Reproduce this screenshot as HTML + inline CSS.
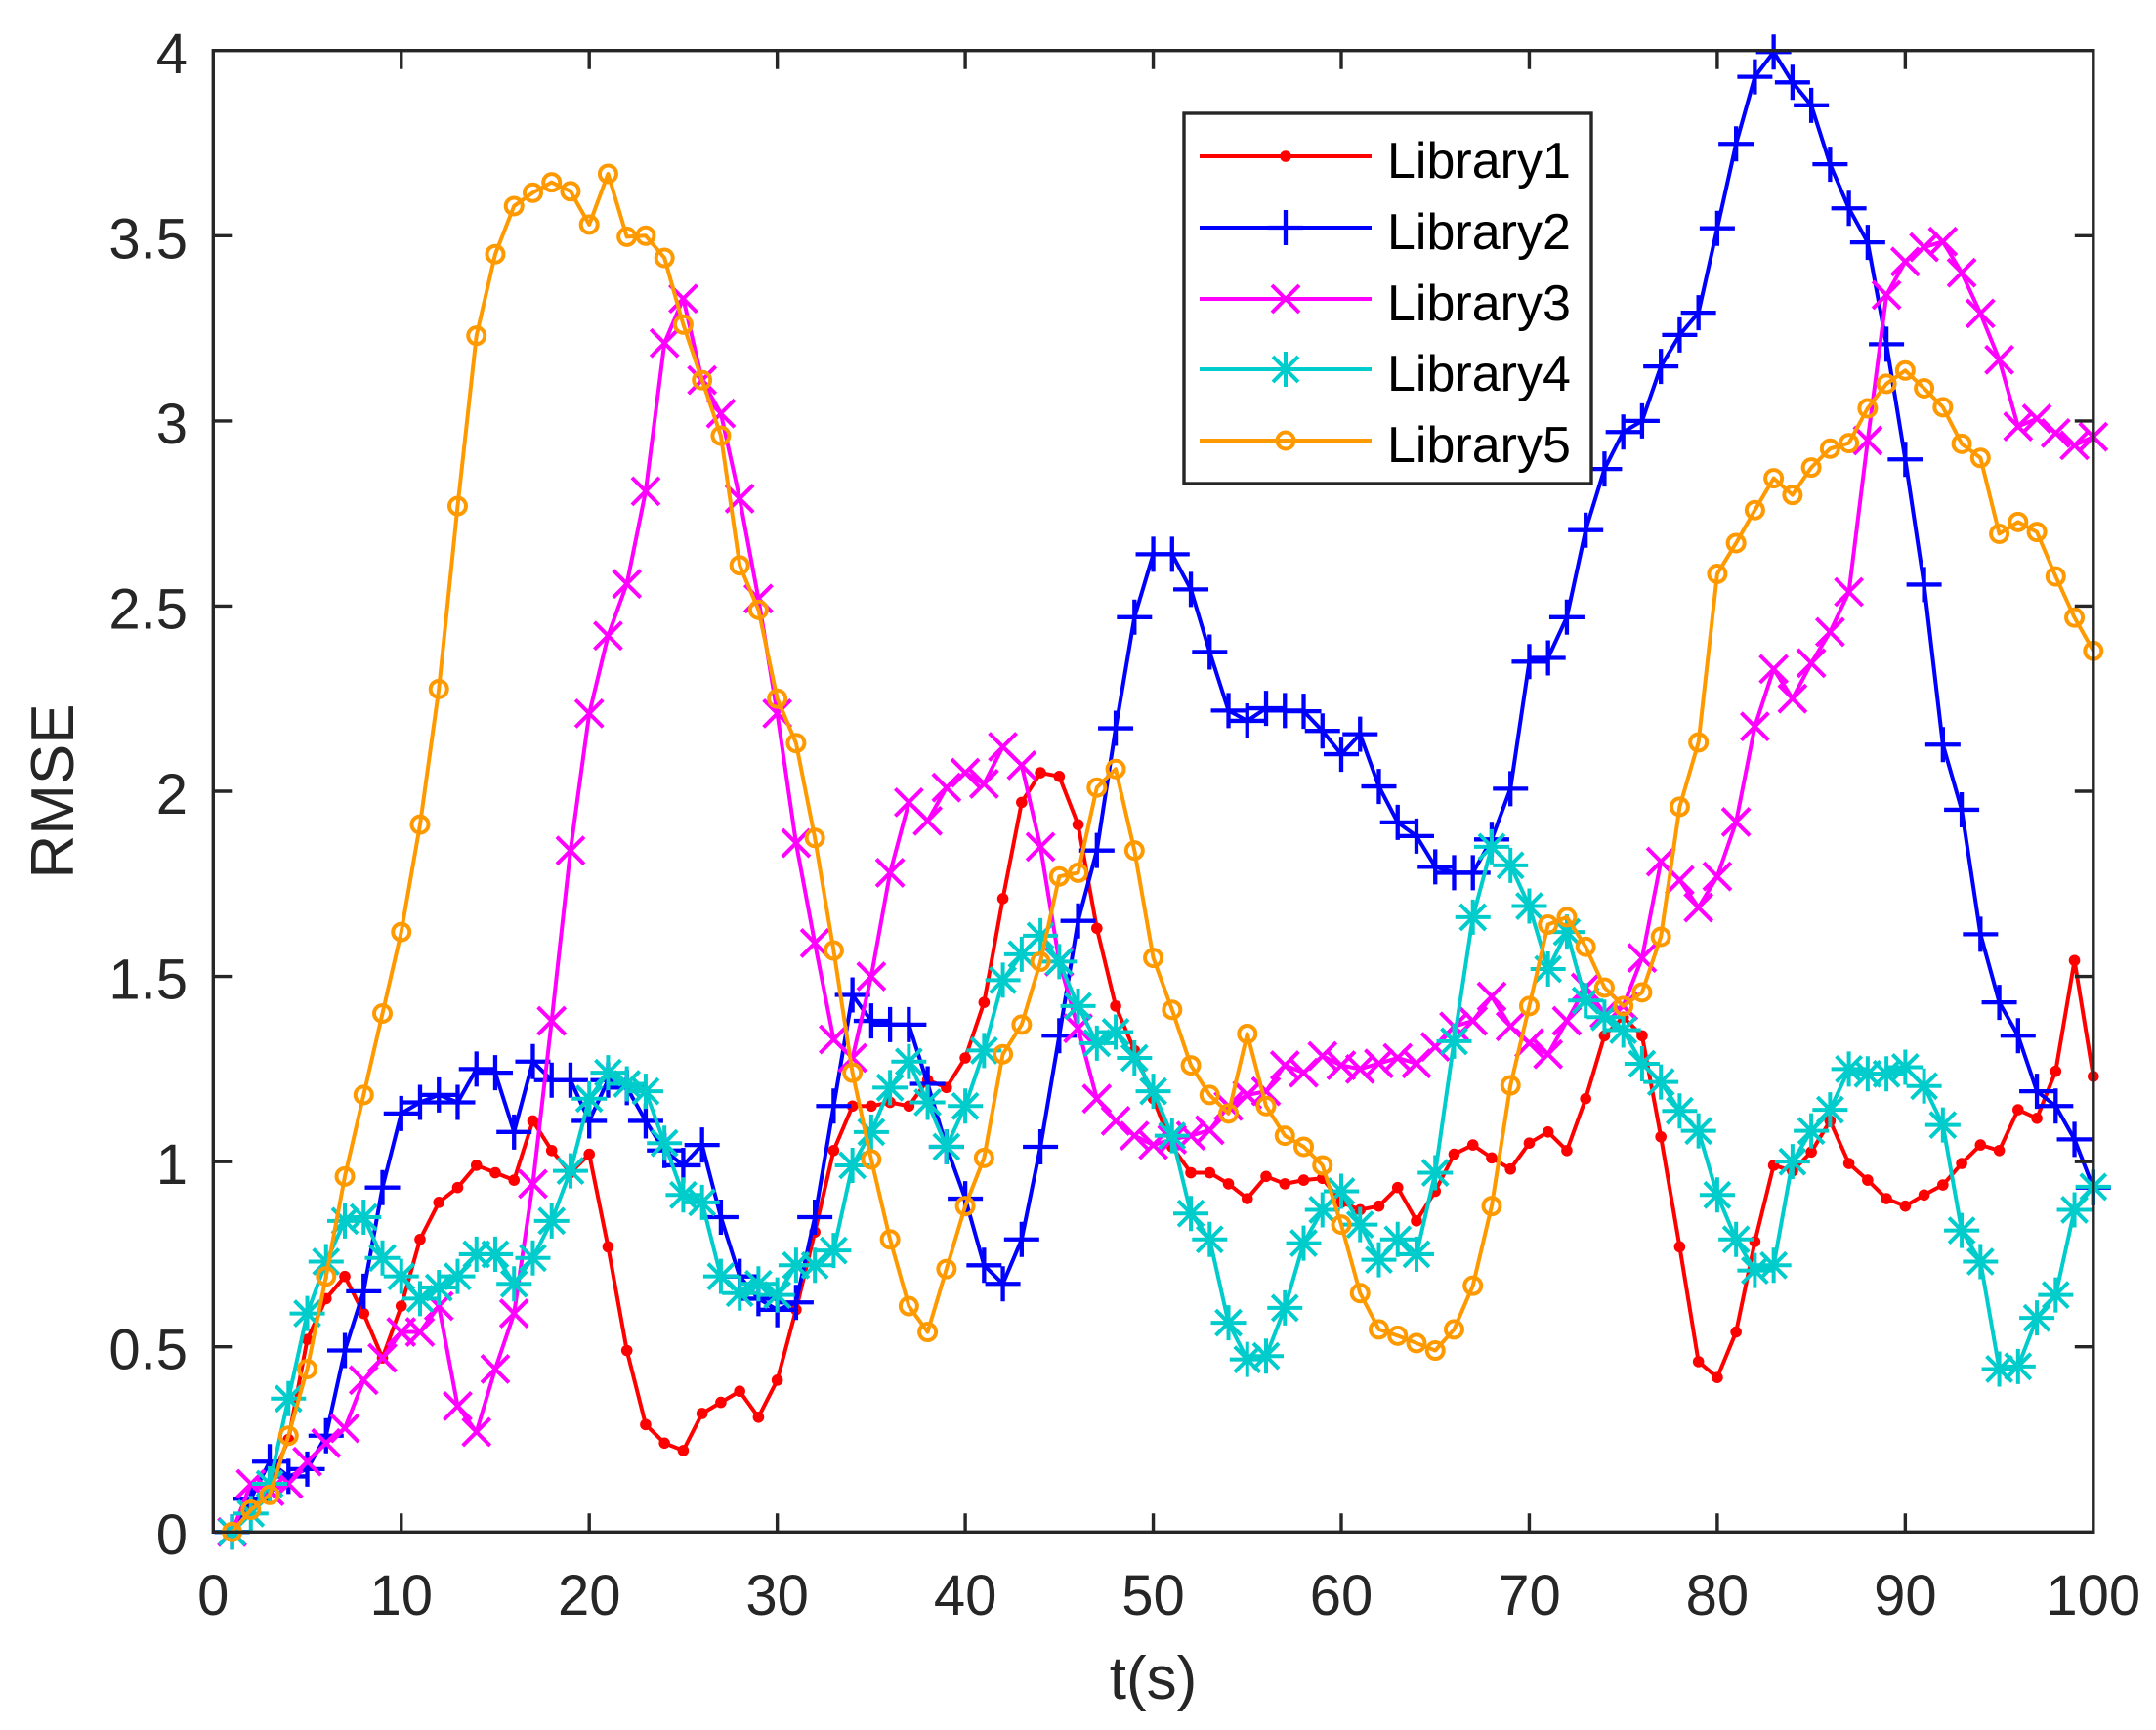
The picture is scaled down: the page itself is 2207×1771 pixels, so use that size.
<!DOCTYPE html>
<html>
<head>
<meta charset="utf-8">
<style>
html,body{margin:0;padding:0;background:#fff;}
svg{display:block;}
text{font-family:"Liberation Sans",Arial,sans-serif;}
</style>
</head>
<body>
<svg width="2207" height="1771" viewBox="0 0 2207 1771" xmlns="http://www.w3.org/2000/svg">
<rect x="0" y="0" width="2207" height="1771" fill="#fff"/>
<defs>
  <g id="mD" transform="scale(0.051962,-0.0026375)"><circle r="5.8" fill="#ff0000"/></g>
  <g id="mP" transform="scale(0.051962,-0.0026375)"><path d="M-18 0H18M0 -18V18" stroke="#0000ff" stroke-width="4.3" fill="none"/></g>
  <g id="mX" transform="scale(0.051962,-0.0026375)"><path d="M-14 -14L14 14M-14 14L14 -14" stroke="#ff00ff" stroke-width="4" fill="none"/></g>
  <g id="mA" transform="scale(0.051962,-0.0026375)"><path d="M-18 0H18M0 -18V18M-13 -13L13 13M-13 13L13 -13" stroke="#00cccc" stroke-width="4" fill="none"/></g>
  <g id="mO" transform="scale(0.051962,-0.0026375)"><circle r="8.5" fill="none" stroke="#ff9900" stroke-width="4"/></g>
</defs>

<!-- axes box -->
<rect x="218.3" y="51.7" width="1924.5" height="1516.6" fill="#fff" stroke="none"/>

<!-- data -->
<g transform="translate(218.3 1568.3) scale(19.245 -379.15)">
<!-- Library1 -->
<polyline fill="none" stroke="#ff0000" stroke-width="4" vector-effect="non-scaling-stroke" stroke-linejoin="round" points="1,0 2,0.07 3,0.13 4,0.25 5,0.52 6,0.63 7,0.69 8,0.59 9,0.47 10,0.61 11,0.79 12,0.89 13,0.93 14,0.99 15,0.97 16,0.95 17,1.11 18,1.03 19,0.97 20,1.02 21,0.77 22,0.49 23,0.29 24,0.24 25,0.22 26,0.32 27,0.35 28,0.38 29,0.31 30,0.41 31,0.6 32,0.81 33,1.03 34,1.15 35,1.15 36,1.16 37,1.15 38,1.22 39,1.2 40,1.28 41,1.43 42,1.71 43,1.97 44,2.05 45,2.04 46,1.91 47,1.63 48,1.42 49,1.3 50,1.17 51,1.04 52,0.97 53,0.97 54,0.94 55,0.9 56,0.96 57,0.94 58,0.95 59,0.955 60,0.89 61,0.87 62,0.88 63,0.93 64,0.84 65,0.92 66,1.02 67,1.045 68,1.01 69,0.98 70,1.05 71,1.08 72,1.03 73,1.17 74,1.34 75,1.39 76,1.34 77,1.067 78,0.77 79,0.46 80,0.417 81,0.54 82,0.784 83,0.99 84,0.975 85,1.026 86,1.11 87,0.995 88,0.95 89,0.9 90,0.88 91,0.91 92,0.937 93,0.995 94,1.045 95,1.03 96,1.14 97,1.117 98,1.244 99,1.543 100,1.23"/>
<use href="#mD" x="1" y="0"/><use href="#mD" x="2" y="0.07"/><use href="#mD" x="3" y="0.13"/><use href="#mD" x="4" y="0.25"/><use href="#mD" x="5" y="0.52"/><use href="#mD" x="6" y="0.63"/><use href="#mD" x="7" y="0.69"/><use href="#mD" x="8" y="0.59"/><use href="#mD" x="9" y="0.47"/><use href="#mD" x="10" y="0.61"/>
<use href="#mD" x="11" y="0.79"/><use href="#mD" x="12" y="0.89"/><use href="#mD" x="13" y="0.93"/><use href="#mD" x="14" y="0.99"/><use href="#mD" x="15" y="0.97"/><use href="#mD" x="16" y="0.95"/><use href="#mD" x="17" y="1.11"/><use href="#mD" x="18" y="1.03"/><use href="#mD" x="19" y="0.97"/><use href="#mD" x="20" y="1.02"/>
<use href="#mD" x="21" y="0.77"/><use href="#mD" x="22" y="0.49"/><use href="#mD" x="23" y="0.29"/><use href="#mD" x="24" y="0.24"/><use href="#mD" x="25" y="0.22"/><use href="#mD" x="26" y="0.32"/><use href="#mD" x="27" y="0.35"/><use href="#mD" x="28" y="0.38"/><use href="#mD" x="29" y="0.31"/><use href="#mD" x="30" y="0.41"/>
<use href="#mD" x="31" y="0.6"/><use href="#mD" x="32" y="0.81"/><use href="#mD" x="33" y="1.03"/><use href="#mD" x="34" y="1.15"/><use href="#mD" x="35" y="1.15"/><use href="#mD" x="36" y="1.16"/><use href="#mD" x="37" y="1.15"/><use href="#mD" x="38" y="1.22"/><use href="#mD" x="39" y="1.2"/><use href="#mD" x="40" y="1.28"/>
<use href="#mD" x="41" y="1.43"/><use href="#mD" x="42" y="1.71"/><use href="#mD" x="43" y="1.97"/><use href="#mD" x="44" y="2.05"/><use href="#mD" x="45" y="2.04"/><use href="#mD" x="46" y="1.91"/><use href="#mD" x="47" y="1.63"/><use href="#mD" x="48" y="1.42"/><use href="#mD" x="49" y="1.3"/><use href="#mD" x="50" y="1.17"/>
<use href="#mD" x="51" y="1.04"/><use href="#mD" x="52" y="0.97"/><use href="#mD" x="53" y="0.97"/><use href="#mD" x="54" y="0.94"/><use href="#mD" x="55" y="0.9"/><use href="#mD" x="56" y="0.96"/><use href="#mD" x="57" y="0.94"/><use href="#mD" x="58" y="0.95"/><use href="#mD" x="59" y="0.955"/><use href="#mD" x="60" y="0.89"/>
<use href="#mD" x="61" y="0.87"/><use href="#mD" x="62" y="0.88"/><use href="#mD" x="63" y="0.93"/><use href="#mD" x="64" y="0.84"/><use href="#mD" x="65" y="0.92"/><use href="#mD" x="66" y="1.02"/><use href="#mD" x="67" y="1.045"/><use href="#mD" x="68" y="1.01"/><use href="#mD" x="69" y="0.98"/><use href="#mD" x="70" y="1.05"/>
<use href="#mD" x="71" y="1.08"/><use href="#mD" x="72" y="1.03"/><use href="#mD" x="73" y="1.17"/><use href="#mD" x="74" y="1.34"/><use href="#mD" x="75" y="1.39"/><use href="#mD" x="76" y="1.34"/><use href="#mD" x="77" y="1.067"/><use href="#mD" x="78" y="0.77"/><use href="#mD" x="79" y="0.46"/><use href="#mD" x="80" y="0.417"/>
<use href="#mD" x="81" y="0.54"/><use href="#mD" x="82" y="0.784"/><use href="#mD" x="83" y="0.99"/><use href="#mD" x="84" y="0.975"/><use href="#mD" x="85" y="1.026"/><use href="#mD" x="86" y="1.11"/><use href="#mD" x="87" y="0.995"/><use href="#mD" x="88" y="0.95"/><use href="#mD" x="89" y="0.9"/><use href="#mD" x="90" y="0.88"/>
<use href="#mD" x="91" y="0.91"/><use href="#mD" x="92" y="0.937"/><use href="#mD" x="93" y="0.995"/><use href="#mD" x="94" y="1.045"/><use href="#mD" x="95" y="1.03"/><use href="#mD" x="96" y="1.14"/><use href="#mD" x="97" y="1.117"/><use href="#mD" x="98" y="1.244"/><use href="#mD" x="99" y="1.543"/><use href="#mD" x="100" y="1.23"/>

<!-- Library2 -->
<polyline fill="none" stroke="#0000ff" stroke-width="4" vector-effect="non-scaling-stroke" stroke-linejoin="round" points="1,0 2,0.09 3,0.19 4,0.15 5,0.17 6,0.26 7,0.49 8,0.65 9,0.93 10,1.13 11,1.16 12,1.18 13,1.16 14,1.25 15,1.24 16,1.08 17,1.27 18,1.22 19,1.22 20,1.11 21,1.22 22,1.2 23,1.11 24,1.03 25,0.99 26,1.045 27,0.85 28,0.69 29,0.63 30,0.6 31,0.62 32,0.85 33,1.15 34,1.45 35,1.38 36,1.37 37,1.37 38,1.21 39,1.04 40,0.9 41,0.72 42,0.67 43,0.79 44,1.04 45,1.34 46,1.65 47,1.84 48,2.17 49,2.47 50,2.64 51,2.64 52,2.545 53,2.376 54,2.218 55,2.19 56,2.224 57,2.218 58,2.216 59,2.163 60,2.1 61,2.154 62,2.013 63,1.916 64,1.879 65,1.796 66,1.78 67,1.78 68,1.87 69,2.007 70,2.35 71,2.36 72,2.47 73,2.705 74,2.87 75,2.97 76,3.0 77,3.147 78,3.232 79,3.292 80,3.52 81,3.748 82,3.929 83,3.996 84,3.914 85,3.852 86,3.693 87,3.574 88,3.482 89,3.207 90,2.896 91,2.558 92,2.126 93,1.95 94,1.614 95,1.43 96,1.34 97,1.19 98,1.15 99,1.06 100,0.93"/>
<use href="#mP" x="1" y="0"/><use href="#mP" x="2" y="0.09"/><use href="#mP" x="3" y="0.19"/><use href="#mP" x="4" y="0.15"/><use href="#mP" x="5" y="0.17"/><use href="#mP" x="6" y="0.26"/><use href="#mP" x="7" y="0.49"/><use href="#mP" x="8" y="0.65"/><use href="#mP" x="9" y="0.93"/><use href="#mP" x="10" y="1.13"/>
<use href="#mP" x="11" y="1.16"/><use href="#mP" x="12" y="1.18"/><use href="#mP" x="13" y="1.16"/><use href="#mP" x="14" y="1.25"/><use href="#mP" x="15" y="1.24"/><use href="#mP" x="16" y="1.08"/><use href="#mP" x="17" y="1.27"/><use href="#mP" x="18" y="1.22"/><use href="#mP" x="19" y="1.22"/><use href="#mP" x="20" y="1.11"/>
<use href="#mP" x="21" y="1.22"/><use href="#mP" x="22" y="1.2"/><use href="#mP" x="23" y="1.11"/><use href="#mP" x="24" y="1.03"/><use href="#mP" x="25" y="0.99"/><use href="#mP" x="26" y="1.045"/><use href="#mP" x="27" y="0.85"/><use href="#mP" x="28" y="0.69"/><use href="#mP" x="29" y="0.63"/><use href="#mP" x="30" y="0.6"/>
<use href="#mP" x="31" y="0.62"/><use href="#mP" x="32" y="0.85"/><use href="#mP" x="33" y="1.15"/><use href="#mP" x="34" y="1.45"/><use href="#mP" x="35" y="1.38"/><use href="#mP" x="36" y="1.37"/><use href="#mP" x="37" y="1.37"/><use href="#mP" x="38" y="1.21"/><use href="#mP" x="39" y="1.04"/><use href="#mP" x="40" y="0.9"/>
<use href="#mP" x="41" y="0.72"/><use href="#mP" x="42" y="0.67"/><use href="#mP" x="43" y="0.79"/><use href="#mP" x="44" y="1.04"/><use href="#mP" x="45" y="1.34"/><use href="#mP" x="46" y="1.65"/><use href="#mP" x="47" y="1.84"/><use href="#mP" x="48" y="2.17"/><use href="#mP" x="49" y="2.47"/><use href="#mP" x="50" y="2.64"/>
<use href="#mP" x="51" y="2.64"/><use href="#mP" x="52" y="2.545"/><use href="#mP" x="53" y="2.376"/><use href="#mP" x="54" y="2.218"/><use href="#mP" x="55" y="2.19"/><use href="#mP" x="56" y="2.224"/><use href="#mP" x="57" y="2.218"/><use href="#mP" x="58" y="2.216"/><use href="#mP" x="59" y="2.163"/><use href="#mP" x="60" y="2.1"/>
<use href="#mP" x="61" y="2.154"/><use href="#mP" x="62" y="2.013"/><use href="#mP" x="63" y="1.916"/><use href="#mP" x="64" y="1.879"/><use href="#mP" x="65" y="1.796"/><use href="#mP" x="66" y="1.78"/><use href="#mP" x="67" y="1.78"/><use href="#mP" x="68" y="1.87"/><use href="#mP" x="69" y="2.007"/><use href="#mP" x="70" y="2.35"/>
<use href="#mP" x="71" y="2.36"/><use href="#mP" x="72" y="2.47"/><use href="#mP" x="73" y="2.705"/><use href="#mP" x="74" y="2.87"/><use href="#mP" x="75" y="2.97"/><use href="#mP" x="76" y="3.0"/><use href="#mP" x="77" y="3.147"/><use href="#mP" x="78" y="3.232"/><use href="#mP" x="79" y="3.292"/><use href="#mP" x="80" y="3.52"/>
<use href="#mP" x="81" y="3.748"/><use href="#mP" x="82" y="3.929"/><use href="#mP" x="83" y="3.996"/><use href="#mP" x="84" y="3.914"/><use href="#mP" x="85" y="3.852"/><use href="#mP" x="86" y="3.693"/><use href="#mP" x="87" y="3.574"/><use href="#mP" x="88" y="3.482"/><use href="#mP" x="89" y="3.207"/><use href="#mP" x="90" y="2.896"/>
<use href="#mP" x="91" y="2.558"/><use href="#mP" x="92" y="2.126"/><use href="#mP" x="93" y="1.95"/><use href="#mP" x="94" y="1.614"/><use href="#mP" x="95" y="1.43"/><use href="#mP" x="96" y="1.34"/><use href="#mP" x="97" y="1.19"/><use href="#mP" x="98" y="1.15"/><use href="#mP" x="99" y="1.06"/><use href="#mP" x="100" y="0.93"/>

<!-- Library3 -->
<polyline fill="none" stroke="#ff00ff" stroke-width="4" vector-effect="non-scaling-stroke" stroke-linejoin="round" points="1,0 2,0.13 3,0.11 4,0.13 5,0.19 6,0.24 7,0.28 8,0.41 9,0.47 10,0.54 11,0.54 12,0.61 13,0.34 14,0.27 15,0.44 16,0.59 17,0.94 18,1.38 19,1.84 20,2.21 21,2.42 22,2.56 23,2.81 24,3.21 25,3.33 26,3.11 27,3.02 28,2.79 29,2.52 30,2.21 31,1.86 32,1.59 33,1.33 34,1.28 35,1.5 36,1.78 37,1.97 38,1.92 39,2.01 40,2.05 41,2.02 42,2.12 43,2.07 44,1.85 45,1.54 46,1.36 47,1.17 48,1.11 49,1.07 50,1.045 51,1.06 52,1.07 53,1.085 54,1.15 55,1.18 56,1.19 57,1.26 58,1.24 59,1.285 60,1.26 61,1.25 62,1.265 63,1.28 64,1.265 65,1.31 66,1.365 67,1.38 68,1.446 69,1.365 70,1.32 71,1.29 72,1.38 73,1.47 74,1.4 75,1.42 76,1.55 77,1.81 78,1.76 79,1.686 80,1.77 81,1.917 82,2.175 83,2.33 84,2.25 85,2.346 86,2.43 87,2.538 88,2.947 89,3.34 90,3.43 91,3.469 92,3.484 93,3.4 94,3.29 95,3.165 96,2.985 97,3.006 98,2.967 99,2.934 100,2.957"/>
<use href="#mX" x="1" y="0"/><use href="#mX" x="2" y="0.13"/><use href="#mX" x="3" y="0.11"/><use href="#mX" x="4" y="0.13"/><use href="#mX" x="5" y="0.19"/><use href="#mX" x="6" y="0.24"/><use href="#mX" x="7" y="0.28"/><use href="#mX" x="8" y="0.41"/><use href="#mX" x="9" y="0.47"/><use href="#mX" x="10" y="0.54"/>
<use href="#mX" x="11" y="0.54"/><use href="#mX" x="12" y="0.61"/><use href="#mX" x="13" y="0.34"/><use href="#mX" x="14" y="0.27"/><use href="#mX" x="15" y="0.44"/><use href="#mX" x="16" y="0.59"/><use href="#mX" x="17" y="0.94"/><use href="#mX" x="18" y="1.38"/><use href="#mX" x="19" y="1.84"/><use href="#mX" x="20" y="2.21"/>
<use href="#mX" x="21" y="2.42"/><use href="#mX" x="22" y="2.56"/><use href="#mX" x="23" y="2.81"/><use href="#mX" x="24" y="3.21"/><use href="#mX" x="25" y="3.33"/><use href="#mX" x="26" y="3.11"/><use href="#mX" x="27" y="3.02"/><use href="#mX" x="28" y="2.79"/><use href="#mX" x="29" y="2.52"/><use href="#mX" x="30" y="2.21"/>
<use href="#mX" x="31" y="1.86"/><use href="#mX" x="32" y="1.59"/><use href="#mX" x="33" y="1.33"/><use href="#mX" x="34" y="1.28"/><use href="#mX" x="35" y="1.5"/><use href="#mX" x="36" y="1.78"/><use href="#mX" x="37" y="1.97"/><use href="#mX" x="38" y="1.92"/><use href="#mX" x="39" y="2.01"/><use href="#mX" x="40" y="2.05"/>
<use href="#mX" x="41" y="2.02"/><use href="#mX" x="42" y="2.12"/><use href="#mX" x="43" y="2.07"/><use href="#mX" x="44" y="1.85"/><use href="#mX" x="45" y="1.54"/><use href="#mX" x="46" y="1.36"/><use href="#mX" x="47" y="1.17"/><use href="#mX" x="48" y="1.11"/><use href="#mX" x="49" y="1.07"/><use href="#mX" x="50" y="1.045"/>
<use href="#mX" x="51" y="1.06"/><use href="#mX" x="52" y="1.07"/><use href="#mX" x="53" y="1.085"/><use href="#mX" x="54" y="1.15"/><use href="#mX" x="55" y="1.18"/><use href="#mX" x="56" y="1.19"/><use href="#mX" x="57" y="1.26"/><use href="#mX" x="58" y="1.24"/><use href="#mX" x="59" y="1.285"/><use href="#mX" x="60" y="1.26"/>
<use href="#mX" x="61" y="1.25"/><use href="#mX" x="62" y="1.265"/><use href="#mX" x="63" y="1.28"/><use href="#mX" x="64" y="1.265"/><use href="#mX" x="65" y="1.31"/><use href="#mX" x="66" y="1.365"/><use href="#mX" x="67" y="1.38"/><use href="#mX" x="68" y="1.446"/><use href="#mX" x="69" y="1.365"/><use href="#mX" x="70" y="1.32"/>
<use href="#mX" x="71" y="1.29"/><use href="#mX" x="72" y="1.38"/><use href="#mX" x="73" y="1.47"/><use href="#mX" x="74" y="1.4"/><use href="#mX" x="75" y="1.42"/><use href="#mX" x="76" y="1.55"/><use href="#mX" x="77" y="1.81"/><use href="#mX" x="78" y="1.76"/><use href="#mX" x="79" y="1.686"/><use href="#mX" x="80" y="1.77"/>
<use href="#mX" x="81" y="1.917"/><use href="#mX" x="82" y="2.175"/><use href="#mX" x="83" y="2.33"/><use href="#mX" x="84" y="2.25"/><use href="#mX" x="85" y="2.346"/><use href="#mX" x="86" y="2.43"/><use href="#mX" x="87" y="2.538"/><use href="#mX" x="88" y="2.947"/><use href="#mX" x="89" y="3.34"/><use href="#mX" x="90" y="3.43"/>
<use href="#mX" x="91" y="3.469"/><use href="#mX" x="92" y="3.484"/><use href="#mX" x="93" y="3.4"/><use href="#mX" x="94" y="3.29"/><use href="#mX" x="95" y="3.165"/><use href="#mX" x="96" y="2.985"/><use href="#mX" x="97" y="3.006"/><use href="#mX" x="98" y="2.967"/><use href="#mX" x="99" y="2.934"/><use href="#mX" x="100" y="2.957"/>

<!-- Library4 -->
<polyline fill="none" stroke="#00cccc" stroke-width="4" vector-effect="non-scaling-stroke" stroke-linejoin="round" points="1,0 2,0.05 3,0.13 4,0.36 5,0.59 6,0.73 7,0.84 8,0.85 9,0.74 10,0.69 11,0.63 12,0.66 13,0.69 14,0.75 15,0.75 16,0.67 17,0.74 18,0.84 19,0.975 20,1.17 21,1.24 22,1.21 23,1.19 24,1.05 25,0.91 26,0.89 27,0.69 28,0.645 29,0.67 30,0.64 31,0.72 32,0.72 33,0.76 34,0.99 35,1.08 36,1.2 37,1.27 38,1.16 39,1.04 40,1.15 41,1.3 42,1.49 43,1.56 44,1.61 45,1.54 46,1.42 47,1.32 48,1.35 49,1.28 50,1.19 51,1.07 52,0.86 53,0.79 54,0.565 55,0.466 56,0.475 57,0.605 58,0.78 59,0.87 60,0.92 61,0.83 62,0.735 63,0.79 64,0.75 65,0.97 66,1.325 67,1.66 68,1.85 69,1.8 70,1.69 71,1.52 72,1.62 73,1.435 74,1.39 75,1.355 76,1.264 77,1.215 78,1.137 79,1.083 80,0.91 81,0.79 82,0.706 83,0.72 84,1.0 85,1.083 86,1.14 87,1.25 88,1.237 89,1.237 90,1.255 91,1.204 92,1.099 93,0.814 94,0.73 95,0.44 96,0.447 97,0.578 98,0.64 99,0.87 100,0.932"/>
<use href="#mA" x="1" y="0"/><use href="#mA" x="2" y="0.05"/><use href="#mA" x="3" y="0.13"/><use href="#mA" x="4" y="0.36"/><use href="#mA" x="5" y="0.59"/><use href="#mA" x="6" y="0.73"/><use href="#mA" x="7" y="0.84"/><use href="#mA" x="8" y="0.85"/><use href="#mA" x="9" y="0.74"/><use href="#mA" x="10" y="0.69"/>
<use href="#mA" x="11" y="0.63"/><use href="#mA" x="12" y="0.66"/><use href="#mA" x="13" y="0.69"/><use href="#mA" x="14" y="0.75"/><use href="#mA" x="15" y="0.75"/><use href="#mA" x="16" y="0.67"/><use href="#mA" x="17" y="0.74"/><use href="#mA" x="18" y="0.84"/><use href="#mA" x="19" y="0.975"/><use href="#mA" x="20" y="1.17"/>
<use href="#mA" x="21" y="1.24"/><use href="#mA" x="22" y="1.21"/><use href="#mA" x="23" y="1.19"/><use href="#mA" x="24" y="1.05"/><use href="#mA" x="25" y="0.91"/><use href="#mA" x="26" y="0.89"/><use href="#mA" x="27" y="0.69"/><use href="#mA" x="28" y="0.645"/><use href="#mA" x="29" y="0.67"/><use href="#mA" x="30" y="0.64"/>
<use href="#mA" x="31" y="0.72"/><use href="#mA" x="32" y="0.72"/><use href="#mA" x="33" y="0.76"/><use href="#mA" x="34" y="0.99"/><use href="#mA" x="35" y="1.08"/><use href="#mA" x="36" y="1.2"/><use href="#mA" x="37" y="1.27"/><use href="#mA" x="38" y="1.16"/><use href="#mA" x="39" y="1.04"/><use href="#mA" x="40" y="1.15"/>
<use href="#mA" x="41" y="1.3"/><use href="#mA" x="42" y="1.49"/><use href="#mA" x="43" y="1.56"/><use href="#mA" x="44" y="1.61"/><use href="#mA" x="45" y="1.54"/><use href="#mA" x="46" y="1.42"/><use href="#mA" x="47" y="1.32"/><use href="#mA" x="48" y="1.35"/><use href="#mA" x="49" y="1.28"/><use href="#mA" x="50" y="1.19"/>
<use href="#mA" x="51" y="1.07"/><use href="#mA" x="52" y="0.86"/><use href="#mA" x="53" y="0.79"/><use href="#mA" x="54" y="0.565"/><use href="#mA" x="55" y="0.466"/><use href="#mA" x="56" y="0.475"/><use href="#mA" x="57" y="0.605"/><use href="#mA" x="58" y="0.78"/><use href="#mA" x="59" y="0.87"/><use href="#mA" x="60" y="0.92"/>
<use href="#mA" x="61" y="0.83"/><use href="#mA" x="62" y="0.735"/><use href="#mA" x="63" y="0.79"/><use href="#mA" x="64" y="0.75"/><use href="#mA" x="65" y="0.97"/><use href="#mA" x="66" y="1.325"/><use href="#mA" x="67" y="1.66"/><use href="#mA" x="68" y="1.85"/><use href="#mA" x="69" y="1.8"/><use href="#mA" x="70" y="1.69"/>
<use href="#mA" x="71" y="1.52"/><use href="#mA" x="72" y="1.62"/><use href="#mA" x="73" y="1.435"/><use href="#mA" x="74" y="1.39"/><use href="#mA" x="75" y="1.355"/><use href="#mA" x="76" y="1.264"/><use href="#mA" x="77" y="1.215"/><use href="#mA" x="78" y="1.137"/><use href="#mA" x="79" y="1.083"/><use href="#mA" x="80" y="0.91"/>
<use href="#mA" x="81" y="0.79"/><use href="#mA" x="82" y="0.706"/><use href="#mA" x="83" y="0.72"/><use href="#mA" x="84" y="1.0"/><use href="#mA" x="85" y="1.083"/><use href="#mA" x="86" y="1.14"/><use href="#mA" x="87" y="1.25"/><use href="#mA" x="88" y="1.237"/><use href="#mA" x="89" y="1.237"/><use href="#mA" x="90" y="1.255"/>
<use href="#mA" x="91" y="1.204"/><use href="#mA" x="92" y="1.099"/><use href="#mA" x="93" y="0.814"/><use href="#mA" x="94" y="0.73"/><use href="#mA" x="95" y="0.44"/><use href="#mA" x="96" y="0.447"/><use href="#mA" x="97" y="0.578"/><use href="#mA" x="98" y="0.64"/><use href="#mA" x="99" y="0.87"/><use href="#mA" x="100" y="0.932"/>

<!-- Library5 -->
<polyline fill="none" stroke="#ff9900" stroke-width="4" vector-effect="non-scaling-stroke" stroke-linejoin="round" points="1,0 2,0.06 3,0.1 4,0.26 5,0.44 6,0.69 7,0.96 8,1.18 9,1.4 10,1.62 11,1.91 12,2.276 13,2.77 14,3.23 15,3.45 16,3.58 17,3.616 18,3.644 19,3.62 20,3.53 21,3.667 22,3.497 23,3.5 24,3.44 25,3.26 26,3.11 27,2.96 28,2.61 29,2.49 30,2.25 31,2.13 32,1.874 33,1.57 34,1.24 35,1.006 36,0.79 37,0.61 38,0.54 39,0.71 40,0.88 41,1.01 42,1.29 43,1.37 44,1.54 45,1.77 46,1.78 47,2.01 48,2.06 49,1.84 50,1.55 51,1.41 52,1.26 53,1.18 54,1.13 55,1.345 56,1.15 57,1.07 58,1.04 59,0.99 60,0.83 61,0.645 62,0.547 63,0.53 64,0.51 65,0.49 66,0.547 67,0.665 68,0.88 69,1.206 70,1.42 71,1.64 72,1.66 73,1.58 74,1.47 75,1.42 76,1.457 77,1.607 78,1.958 79,2.132 80,2.587 81,2.67 82,2.759 83,2.845 84,2.8 85,2.874 86,2.925 87,2.94 88,3.034 89,3.1 90,3.136 91,3.088 92,3.037 93,2.938 94,2.9 95,2.695 96,2.727 97,2.7 98,2.58 99,2.469 100,2.379"/>
<use href="#mO" x="1" y="0"/><use href="#mO" x="2" y="0.06"/><use href="#mO" x="3" y="0.1"/><use href="#mO" x="4" y="0.26"/><use href="#mO" x="5" y="0.44"/><use href="#mO" x="6" y="0.69"/><use href="#mO" x="7" y="0.96"/><use href="#mO" x="8" y="1.18"/><use href="#mO" x="9" y="1.4"/><use href="#mO" x="10" y="1.62"/>
<use href="#mO" x="11" y="1.91"/><use href="#mO" x="12" y="2.276"/><use href="#mO" x="13" y="2.77"/><use href="#mO" x="14" y="3.23"/><use href="#mO" x="15" y="3.45"/><use href="#mO" x="16" y="3.58"/><use href="#mO" x="17" y="3.616"/><use href="#mO" x="18" y="3.644"/><use href="#mO" x="19" y="3.62"/><use href="#mO" x="20" y="3.53"/>
<use href="#mO" x="21" y="3.667"/><use href="#mO" x="22" y="3.497"/><use href="#mO" x="23" y="3.5"/><use href="#mO" x="24" y="3.44"/><use href="#mO" x="25" y="3.26"/><use href="#mO" x="26" y="3.11"/><use href="#mO" x="27" y="2.96"/><use href="#mO" x="28" y="2.61"/><use href="#mO" x="29" y="2.49"/><use href="#mO" x="30" y="2.25"/>
<use href="#mO" x="31" y="2.13"/><use href="#mO" x="32" y="1.874"/><use href="#mO" x="33" y="1.57"/><use href="#mO" x="34" y="1.24"/><use href="#mO" x="35" y="1.006"/><use href="#mO" x="36" y="0.79"/><use href="#mO" x="37" y="0.61"/><use href="#mO" x="38" y="0.54"/><use href="#mO" x="39" y="0.71"/><use href="#mO" x="40" y="0.88"/>
<use href="#mO" x="41" y="1.01"/><use href="#mO" x="42" y="1.29"/><use href="#mO" x="43" y="1.37"/><use href="#mO" x="44" y="1.54"/><use href="#mO" x="45" y="1.77"/><use href="#mO" x="46" y="1.78"/><use href="#mO" x="47" y="2.01"/><use href="#mO" x="48" y="2.06"/><use href="#mO" x="49" y="1.84"/><use href="#mO" x="50" y="1.55"/>
<use href="#mO" x="51" y="1.41"/><use href="#mO" x="52" y="1.26"/><use href="#mO" x="53" y="1.18"/><use href="#mO" x="54" y="1.13"/><use href="#mO" x="55" y="1.345"/><use href="#mO" x="56" y="1.15"/><use href="#mO" x="57" y="1.07"/><use href="#mO" x="58" y="1.04"/><use href="#mO" x="59" y="0.99"/><use href="#mO" x="60" y="0.83"/>
<use href="#mO" x="61" y="0.645"/><use href="#mO" x="62" y="0.547"/><use href="#mO" x="63" y="0.53"/><use href="#mO" x="64" y="0.51"/><use href="#mO" x="65" y="0.49"/><use href="#mO" x="66" y="0.547"/><use href="#mO" x="67" y="0.665"/><use href="#mO" x="68" y="0.88"/><use href="#mO" x="69" y="1.206"/><use href="#mO" x="70" y="1.42"/>
<use href="#mO" x="71" y="1.64"/><use href="#mO" x="72" y="1.66"/><use href="#mO" x="73" y="1.58"/><use href="#mO" x="74" y="1.47"/><use href="#mO" x="75" y="1.42"/><use href="#mO" x="76" y="1.457"/><use href="#mO" x="77" y="1.607"/><use href="#mO" x="78" y="1.958"/><use href="#mO" x="79" y="2.132"/><use href="#mO" x="80" y="2.587"/>
<use href="#mO" x="81" y="2.67"/><use href="#mO" x="82" y="2.759"/><use href="#mO" x="83" y="2.845"/><use href="#mO" x="84" y="2.8"/><use href="#mO" x="85" y="2.874"/><use href="#mO" x="86" y="2.925"/><use href="#mO" x="87" y="2.94"/><use href="#mO" x="88" y="3.034"/><use href="#mO" x="89" y="3.1"/><use href="#mO" x="90" y="3.136"/>
<use href="#mO" x="91" y="3.088"/><use href="#mO" x="92" y="3.037"/><use href="#mO" x="93" y="2.938"/><use href="#mO" x="94" y="2.9"/><use href="#mO" x="95" y="2.695"/><use href="#mO" x="96" y="2.727"/><use href="#mO" x="97" y="2.7"/><use href="#mO" x="98" y="2.58"/><use href="#mO" x="99" y="2.469"/><use href="#mO" x="100" y="2.379"/>
</g>

<!-- axes frame and ticks -->
<g stroke="#262626" stroke-width="3.4" fill="none">
  <rect x="218.3" y="51.7" width="1924.5" height="1516.6"/>
  <path d="M410.75 1568.3v-19M603.2 1568.3v-19M795.65 1568.3v-19M988.1 1568.3v-19M1180.55 1568.3v-19M1373 1568.3v-19M1565.45 1568.3v-19M1757.9 1568.3v-19M1950.35 1568.3v-19
           M410.75 51.7v19M603.2 51.7v19M795.65 51.7v19M988.1 51.7v19M1180.55 51.7v19M1373 51.7v19M1565.45 51.7v19M1757.9 51.7v19M1950.35 51.7v19
           M218.3 1378.7h19M218.3 1189.2h19M218.3 999.6h19M218.3 810h19M218.3 620.4h19M218.3 430.9h19M218.3 241.3h19
           M2142.8 1378.7h-19M2142.8 1189.2h-19M2142.8 999.6h-19M2142.8 810h-19M2142.8 620.4h-19M2142.8 430.9h-19M2142.8 241.3h-19"/>
</g>

<!-- tick labels -->
<g fill="#262626" font-size="58" text-anchor="middle">
  <text x="218.3" y="1653">0</text>
  <text x="410.75" y="1653">10</text>
  <text x="603.2" y="1653">20</text>
  <text x="795.65" y="1653">30</text>
  <text x="988.1" y="1653">40</text>
  <text x="1180.55" y="1653">50</text>
  <text x="1373" y="1653">60</text>
  <text x="1565.45" y="1653">70</text>
  <text x="1757.9" y="1653">80</text>
  <text x="1950.35" y="1653">90</text>
  <text x="2142.8" y="1653">100</text>
</g>
<g fill="#262626" font-size="58" text-anchor="end">
  <text x="192" y="1591">0</text>
  <text x="192" y="1401.5">0.5</text>
  <text x="192" y="1212">1</text>
  <text x="192" y="1022.5">1.5</text>
  <text x="192" y="833">2</text>
  <text x="192" y="643.5">2.5</text>
  <text x="192" y="454">3</text>
  <text x="192" y="264.5">3.5</text>
  <text x="192" y="75">4</text>
</g>

<!-- axis labels -->
<text x="1180.5" y="1739" font-size="62" fill="#262626" text-anchor="middle">t(s)</text>
<text transform="translate(75 810) rotate(-90)" font-size="62" fill="#262626" text-anchor="middle">RMSE</text>

<!-- legend -->
<rect x="1212" y="116" width="417" height="379" fill="#fff" stroke="#262626" stroke-width="3.4"/>
<g stroke-width="4" fill="none">
  <path d="M1228 160H1404" stroke="#ff0000"/>
  <path d="M1228 233H1404" stroke="#0000ff"/>
  <path d="M1228 306H1404" stroke="#ff00ff"/>
  <path d="M1228 378H1404" stroke="#00cccc"/>
  <path d="M1228 451H1404" stroke="#ff9900"/>
</g>
<circle cx="1316" cy="160" r="5.8" fill="#ff0000"/>
<path d="M1316 215V251M1298 233H1334" stroke="#0000ff" stroke-width="4.3" fill="none"/>
<path d="M1302 292L1330 320M1302 320L1330 292" stroke="#ff00ff" stroke-width="4" fill="none"/>
<path d="M1298 378H1334M1316 360V396M1303 365L1329 391M1303 391L1329 365" stroke="#00cccc" stroke-width="4" fill="none"/>
<circle cx="1316" cy="451" r="8.5" fill="none" stroke="#ff9900" stroke-width="4"/>
<g fill="#000" font-size="52">
  <text x="1420" y="182">Library1</text>
  <text x="1420" y="255">Library2</text>
  <text x="1420" y="328">Library3</text>
  <text x="1420" y="400">Library4</text>
  <text x="1420" y="473">Library5</text>
</g>
</svg>
</body>
</html>
